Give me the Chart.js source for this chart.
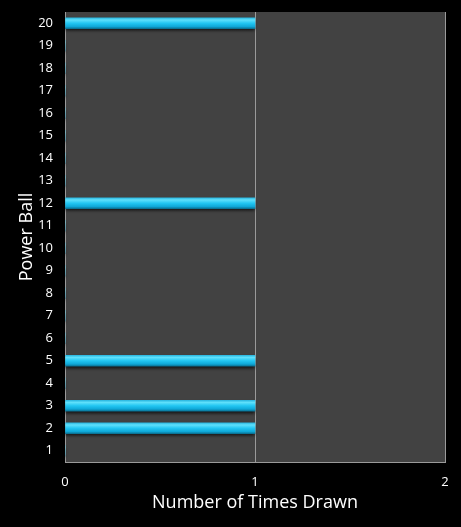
<!DOCTYPE html>
<html>
<head>
<meta charset="utf-8">
<script src="https://cdn.jsdelivr.net/npm/chart.js@4/dist/chart.umd.min.js"></script>
<style>
  html, body { margin: 0; padding: 0; background: #000; }
  #wrap { width: 461px; height: 527px; }
</style>
</head>
<body>
<div id="wrap"><canvas id="chart"></canvas></div>
<script>
// Power ball numbers and how often each was drawn
const balls = ['1', '2', '3', '4', '5', '6', '7', '8', '9', '10',
               '11', '12', '13', '14', '15', '16', '17', '18', '19', '20'];
const timesDrawn = [0, 1, 1, 0, 1, 0, 0, 0, 0, 0,
                    0, 1, 0, 0, 0, 0, 0, 0, 0, 1];
const xTicks = [0, 1, 2];

// plot background + bar shadow
const plotBg = {
    id: 'plotBg',
    beforeDraw(chart) {
        const { ctx, chartArea: a } = chart;
        ctx.save();
        ctx.fillStyle = '#424242';
        ctx.fillRect(a.left, a.top, a.right - a.left, a.bottom - a.top);
        ctx.restore();
    },
    beforeDatasetsDraw(chart) {
        const ctx = chart.ctx;
        ctx.save();
        ctx.shadowColor = 'rgba(0, 0, 0, 0.7)';
        ctx.shadowOffsetY = 2;
        ctx.shadowBlur = 3;
    },
    afterDatasetsDraw(chart) {
        chart.ctx.restore();
    }
};

function barFill(context) {
    const chart = context.chart;
    if (!chart.chartArea || !chart.scales.y) return '#1ec0ee';
    const yc = chart.scales.y.getPixelForValue(context.dataIndex);
    const g = chart.ctx.createLinearGradient(0, yc - 5.5, 0, yc + 5.5);
    g.addColorStop(0, '#2bb7e0');
    g.addColorStop(0.2, '#5fe0fb');
    g.addColorStop(0.5, '#22c6f2');
    g.addColorStop(0.8, '#0fa8d8');
    g.addColorStop(1, '#0a6f90');
    return g;
}

new Chart(document.getElementById('chart'), {
    type: 'bar',
    data: {
        labels: balls,
        datasets: [{
            data: timesDrawn,
            backgroundColor: barFill,
            borderWidth: 0,
            barThickness: 11
        }]
    },
    plugins: [plotBg],
    options: {
        indexAxis: 'y',
        responsive: true,
        maintainAspectRatio: false,
        animation: false,
        layout: { padding: { top: 12, right: 16, left: 0, bottom: 0 } },
        plugins: {
            legend: { display: false },
            tooltip: { enabled: false }
        },
        scales: {
            x: {
                min: 0,
                max: 2,
                afterBuildTicks: s => { s.ticks = xTicks.map(v => ({ value: v })); },
                afterFit: s => { s.height = 65; s.paddingLeft = 0; s.paddingRight = 0; },
                grid: { color: '#9a9a9a', lineWidth: 1, drawTicks: false },
                border: { display: true, color: '#9a9a9a' },
                ticks: {
                    color: '#fff',
                    padding: 12,
                    font: { family: 'Open Sans', size: 13 }
                },
                title: {
                    display: true,
                    text: 'Number of Times Drawn',
                    color: '#fff',
                    padding: { top: 0, bottom: 13 },
                    font: { family: 'Open Sans', size: 18 }
                }
            },
            y: {
                reverse: true,
                afterFit: s => { s.width = 65; s.paddingTop = 0; s.paddingBottom = 0; },
                grid: { display: false, drawTicks: false },
                border: { display: true, color: '#9a9a9a' },
                ticks: {
                    color: '#fff',
                    padding: 12,
                    font: { family: 'Open Sans', size: 13 }
                },
                title: {
                    display: true,
                    text: 'Power Ball',
                    color: '#fff',
                    padding: { top: 16, bottom: 0 },
                    font: { family: 'Open Sans', size: 18 }
                }
            }
        }
    }
});
</script>
</body>
</html>
